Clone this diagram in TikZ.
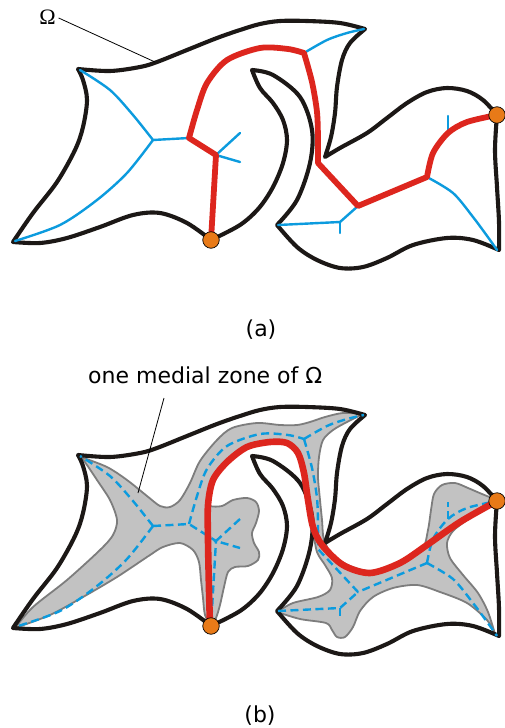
\documentclass[tikz,border=0pt]{standalone}
\usepackage{fontspec}
\newfontfamily\labfont{DejaVu Sans}
\newfontfamily\omegafont{Liberation Serif}
\definecolor{medred}{RGB}{221,38,30}
\definecolor{medblue}{RGB}{12,155,222}
\definecolor{dotorange}{RGB}{232,122,24}
\definecolor{zonegray}{RGB}{194,194,194}
\definecolor{zoneedge}{RGB}{125,125,125}
\definecolor{bnd}{RGB}{28,24,22}
\newcommand\drawboundary{%
\draw[boundary] plot[smooth,tension=0.55] coordinates {(13,242) (33,213) (57,182) (75,150) (83,127) (87,100) (83,80) (78,69)}
 -- plot[smooth,tension=0.55] coordinates {(78,69) (110,71) (140,67) (157,62) (187,50) (217,38) (240,30) (260,24) (280,21) (307,21) (340,23) (365,29)}
 -- plot[smooth,tension=0.55] coordinates {(365,29) (350,43) (342,60) (337,87) (335,113) (331,137) (325,157)}
 -- plot[smooth,tension=0.55] coordinates {(325,157) (340,148) (367,133) (387,118) (407,103) (427,92) (447,88) (467,91) (483,100) (497,115)}
 -- plot[smooth,tension=0.55] coordinates {(497,115) (495,150) (497,187) (499,222) (499,250)}
 -- plot[smooth,tension=0.55] coordinates {(499,250) (473,240) (447,238) (413,245) (387,258) (363,267) (340,268) (317,260) (297,247) (277,225)}
 -- plot[smooth,tension=0.55] coordinates {(277,225) (297,200) (310,163) (312,130) (300,97) (273,75) (252,70)}
 -- plot[smooth,tension=0.55] coordinates {(252,70) (260,88) (273,103) (283,120) (287,140) (283,163) (273,187) (259,208) (240,225) (211,240)}
 -- plot[smooth,tension=0.55] coordinates {(211,240) (187,223) (160,213) (133,215) (100,227) (67,238) (40,243) (13,242)}
 -- cycle;}
\newcommand\drawaxis[1]{%
 \draw[#1] plot[smooth,tension=0.5] coordinates {(153,140) (133,115) (110,90) (80,70)};
 \draw[#1] plot[smooth,tension=0.5] coordinates {(153,140) (127,173) (97,200) (60,225) (15,241)};
 \draw[#1] (153,140) -- (189,138) -- (216,155) -- (211,240);
 \draw[#1] (240,133) -- (216,155) -- (240,162);
 \draw[#1] plot[smooth,tension=0.5] coordinates {(189,138) (197,110) (207,83) (227,60) (260,48) (288,49) (304,53)};
 \draw[#1] plot[smooth,tension=0.5] coordinates {(304,53) (327,40) (347,33) (364,29)};
 \draw[#1] plot[smooth,tension=0.5] coordinates {(304,53) (312,82) (317,112) (318,140) (318,163)} -- (358,206) -- (427,177);
 \draw[#1] (278,225) -- (340,222) -- (358,206);
 \draw[#1] (340,222) -- (340,233);
 \draw[#1] plot[smooth,tension=0.5] coordinates {(427,177) (453,193) (473,217) (490,240) (497,250)};
 \draw[#1] plot[smooth,tension=0.5] coordinates {(427,177) (433,153) (448,133) (467,122) (497,115)};
 \draw[#1] (448,133) -- (448,116);
}
\begin{document}
\begin{tikzpicture}[x=1pt,y=-1pt,
  boundary/.style={line width=4.1pt, draw=bnd, line join=round, line cap=round},
  axisline/.style={line width=2.4pt, draw=medblue, line cap=round, line join=round},
  axisdash/.style={line width=2.4pt, draw=medblue, dash pattern=on 8pt off 4.5pt},
  reda/.style={line width=5.8pt, draw=medred, line join=round, line cap=round},
  redb/.style={line width=6.6pt, draw=medred, line join=round, line cap=round},
  orangedot/.style={circle, fill=dotorange, draw=black, line width=0.7pt, minimum size=16.5pt, inner sep=0pt},
  leader/.style={line width=0.8pt, draw=black},
  zone/.style={fill=zonegray, draw=zoneedge, line width=1.8pt, line join=round},
  caption/.style={font=\labfont\fontsize{22}{26}\selectfont, inner sep=0pt}]
\useasboundingbox (0,0) rectangle (505,728);
\fill[white] (0,0) rectangle (505,728);

% ---------------- (a) ----------------
\drawboundary
\drawaxis{axisline}
\draw[reda] (211,240) -- (216,155) -- (189,138)
  -- plot[smooth,tension=0.5] coordinates {(189,138) (197,110) (207,83) (227,60) (260,48) (288,49) (304,53)}
  -- plot[smooth,tension=0.5] coordinates {(304,53) (312,82) (317,112) (318,140) (318,163)}
  -- (358,206) -- (427,177)
  -- plot[smooth,tension=0.5] coordinates {(427,177) (433,153) (448,133) (467,122) (497,115)};
\node[orangedot] (dota1) at (211,240) {};
\node[orangedot] (dota2) at (497,115) {};
\node[font=\omegafont\fontsize{22}{26}\selectfont, inner sep=0pt, anchor=base] (omega) at (47.5,24) {Ω};
\coordinate (omegatip) at (155,62);
\draw[leader, shorten <=3pt] (omega.east) -- (omegatip);
\node[caption, anchor=base] (capa) at (261,336) {(a)};

% ---------------- (b) ----------------
\draw[zone]
 plot[smooth,tension=0.5] coordinates {(81,457) (107,467) (127,480) (147,496) (160,506) (170,507) (180,500) (190,483) (200,461) (217,440) (232,428) (257,423) (280,425) (297,425) (310,422) (325,417) (343,413) (363,414)}
 -- plot[smooth,tension=0.5] coordinates {(363,414) (347,422) (333,430) (323,440) (319,457) (318,477) (320,500) (322,520) (324,540) (333,555) (350,566) (372,571) (400,562) (422,550) (428,530) (431,510) (434,494) (442,485) (455,483) (468,488) (482,494) (497,500)}
 -- plot[smooth,tension=0.5] coordinates {(497,500) (483,509) (467,520) (453,531) (447,543) (450,558) (463,575) (478,593) (488,612) (495,634)}
 -- plot[smooth,tension=0.5] coordinates {(495,634) (487,620) (467,603) (440,592) (417,585) (393,588) (373,597) (360,611) (353,627) (345,637) (337,637) (332,630) (326,623) (300,619) (277,612)}
 -- plot[smooth,tension=0.5] coordinates {(277,612) (293,603) (318,597) (330,590) (332,578) (325,565) (317,552) (313,530) (308,500) (304,473) (298,453) (287,443) (270,442) (247,447) (227,462) (213,480) (208,500) (210,506) (222,506) (233,500) (247,498) (256,502) (259,511) (256,523) (252,533) (254,543) (259,552) (258,560) (248,566) (235,567) (228,572) (224,587) (220,605) (216,618) (211,627)}
 -- plot[smooth,tension=0.5] coordinates {(211,627) (205,615) (203,598) (201,580) (199,562) (193,550) (180,543) (163,547) (150,555) (117,577) (83,597) (50,615) (15,628)}
 -- plot[smooth,tension=0.5] coordinates {(15,628) (33,607) (67,580) (100,550) (113,535) (117,520) (110,500) (97,480) (87,465) (81,457)}
 -- cycle;
\begin{scope}[shift={(0,386)}]
\drawboundary
\drawaxis{axisdash}
\end{scope}
\draw[redb] plot[smooth,tension=0.5] coordinates {(210,626) (209,590) (208,540) (208,505) (213,480) (227,462) (247,447) (270,442) (287,443) (298,453) (304,473) (308,500) (313,527) (322,545) (343,565) (370,573) (400,563) (427,545) (460,522) (497,501)};
\node[orangedot] (dotb1) at (211,626) {};
\node[orangedot] (dotb2) at (497,501) {};
\node[caption, anchor=base west] (zonelabel) at (88,383) {one medial zone of Ω};
\coordinate (zonefoot) at (164,398);
\coordinate (zonetip) at (138,493);
\draw[leader] (zonefoot) -- (zonetip);
\node[caption, anchor=base] (capb) at (260,722) {(b)};
\end{tikzpicture}
\end{document}
